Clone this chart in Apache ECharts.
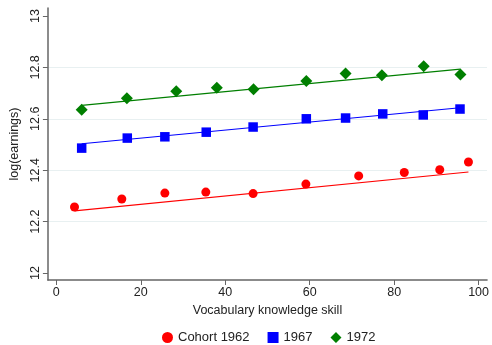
<!DOCTYPE html>
<html><head><meta charset="utf-8">
<script src="https://cdn.jsdelivr.net/npm/echarts@6/dist/echarts.min.js"></script>
<style>html,body{margin:0;padding:0;background:#fff}#c{width:492px;height:345px}</style>
</head><body><div id="c"></div>
<script>
const xTicks = [0, 20, 40, 60, 80, 100];
const yTicks = [12, 12.2, 12.4, 12.6, 12.8, 13];
const yGrid = [12.2, 12.4, 12.6, 12.8];
const seriesNames = ['Cohort 1962', '1967', '1972'];

const x1962 = [4.3, 15.5, 25.7, 35.4, 46.6, 59.1, 71.6, 82.4, 90.8, 97.6];
const y1962 = [12.257, 12.288, 12.311, 12.315, 12.309, 12.346, 12.378, 12.391, 12.402, 12.432];
const fit1962 = [[4.3, 12.242], [97.6, 12.393]];

const x1967 = [6.0, 16.8, 25.7, 35.5, 46.6, 59.2, 68.5, 77.3, 86.9, 95.6];
const y1967 = [12.486, 12.525, 12.530, 12.548, 12.568, 12.600, 12.603, 12.619, 12.615, 12.638];
const fit1967 = [[6.0, 12.503], [95.6, 12.643]];

const x1972 = [6.0, 16.7, 28.4, 38.0, 46.7, 59.2, 68.5, 77.1, 87.0, 95.7];
const y1972 = [12.635, 12.680, 12.707, 12.721, 12.715, 12.747, 12.776, 12.769, 12.804, 12.772];
const fit1972 = [[6.0, 12.652], [95.7, 12.793]];

const zip = (a, b) => a.map((v, i) => [v, b[i]]);
const font = 'Liberation Sans, Arial, sans-serif';
const axisCol = '#666';

const chart = echarts.init(document.getElementById('c'), null, {renderer: 'canvas'});
const scat = (name, xs, ys, sym, size, col) => ({
  name, type: 'scatter', data: zip(xs, ys), symbol: sym, symbolSize: size,
  itemStyle: {color: col, opacity: 1}, z: 3, animation: false
});
const fit = (pts, col) => ({
  type: 'line', data: pts, symbol: 'none', lineStyle: {color: col, width: 1.2},
  z: 2, animation: false, silent: true
});
chart.setOption({
  animation: false,
  grid: {left: 47, right: 1, top: 8, bottom: 65, containLabel: false},
  legend: {
    top: 326, left: 157, itemGap: 18, itemWidth: 11, itemHeight: 11,
    textStyle: {fontFamily: font, fontSize: 13, color: '#222'},
    data: [
      {name: seriesNames[0], icon: 'circle'},
      {name: seriesNames[1], icon: 'rect'},
      {name: seriesNames[2], icon: 'diamond'}
    ]
  },
  xAxis: {
    type: 'value', min: -2, max: 102,
    name: 'Vocabulary knowledge skill', nameLocation: 'middle', nameGap: 21,
    nameTextStyle: {fontFamily: font, fontSize: 12.5, color: '#222'},
    axisLine: {show: true, onZero: false, lineStyle: {color: axisCol, width: 1.5}},
    axisTick: {show: true, length: 5, lineStyle: {color: axisCol}, customValues: xTicks},
    axisLabel: {fontFamily: font, fontSize: 12.5, color: '#222', margin: 6, customValues: xTicks},
    splitLine: {show: false}
  },
  yAxis: {
    type: 'value', min: 11.973, max: 13.031,
    name: 'log(earnings)', nameLocation: 'middle', nameGap: 23, nameRotate: 90,
    nameTextStyle: {fontFamily: font, fontSize: 12.5, color: '#222'},
    axisLine: {show: true, onZero: false, lineStyle: {color: axisCol, width: 1.5}},
    axisTick: {show: true, length: 5, lineStyle: {color: axisCol}, customValues: yTicks},
    axisLabel: {fontFamily: font, fontSize: 12.5, color: '#222', margin: 6, rotate: 90,
      customValues: yTicks, formatter: v => String(+v.toFixed(1))},
    splitLine: {show: false}
  },
  series: [
    {type: 'line', data: [], silent: true, animation: false, z: 0,
      markLine: {silent: true, symbol: 'none', label: {show: false}, z: 0,
        lineStyle: {color: '#e8f0f1', type: 'solid', width: 1},
        data: yGrid.map(v => ({yAxis: v}))}},
    fit(fit1962, '#ff0000'),
    fit(fit1967, '#0000ff'),
    fit(fit1972, '#007f00'),
    scat(seriesNames[0], x1962, y1962, 'circle', 9, '#ff0000'),
    scat(seriesNames[1], x1967, y1967, 'rect', 9.5, '#0000ff'),
    scat(seriesNames[2], x1972, y1972, 'diamond', 12, '#007f00')
  ]
});
</script></body></html>
